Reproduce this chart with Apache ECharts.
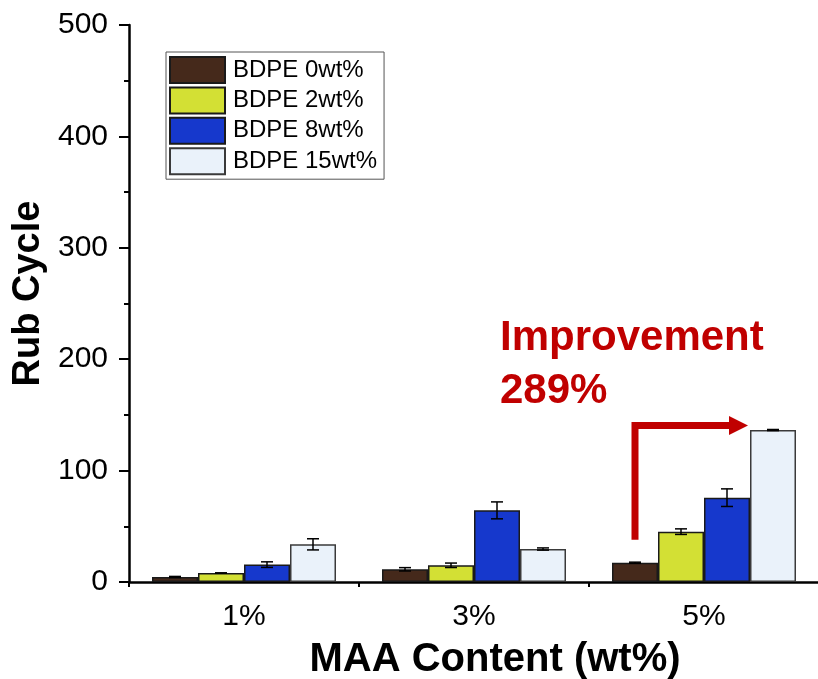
<!DOCTYPE html>
<html>
<head>
<meta charset="utf-8">
<script src="https://cdn.jsdelivr.net/npm/echarts@6/dist/echarts.min.js"></script>
<style>
  html, body { margin: 0; padding: 0; background: #ffffff; }
  #chart { width: 818px; height: 679px; }
</style>
</head>
<body>
<div id="chart"></div>
<script>
// MAA content groups on the x axis
const categories = ['1%', '3%', '5%'];
const seriesNames = ['BDPE 0wt%', 'BDPE 2wt%', 'BDPE 8wt%', 'BDPE 15wt%'];

// Rub cycle means and their error (± one deviation) per BDPE loading
const bdpe0 = [4.5, 11.4, 17.3];
const bdpe0Err = [0.5, 1.5, 0.5];
const bdpe2 = [8.1, 15.0, 45.2];
const bdpe2Err = [0, 2.0, 2.5];
const bdpe8 = [15.6, 64.3, 75.7];
const bdpe8Err = [2.5, 7.6, 7.9];
const bdpe15 = [33.8, 29.6, 136.4];
const bdpe15Err = [5.0, 1.0, 0.5];

const yTicks = [0, 100, 200, 300, 400, 500];

// Improvement call-out: arrow rises from the 0wt% bar to the 15wt% level
const arrowStart = 38;
const arrowLevel = 140.5;

const values = [bdpe0, bdpe2, bdpe8, bdpe15];
const errors = [bdpe0Err, bdpe2Err, bdpe8Err, bdpe15Err];
const colors = ['#45291b', '#d3e034', '#1638cc', '#eaf2fa'];
const borders = ['#1a1a1a', '#1a1a1a', '#1a1a1a', '#3a3a3a'];
const FONT = 'Liberation Sans, Arial, sans-serif';
const GAP = 0.2;

const chart = echarts.init(document.getElementById('chart'), null, { renderer: 'canvas' });

const barSeries = seriesNames.map((name, i) => ({
  name: name,
  type: 'bar',
  data: values[i],
  barGap: '0%',
  barCategoryGap: (GAP * 100) + '%',
  itemStyle: { color: colors[i], borderColor: borders[i], borderWidth: 1.5 },
  z: 2
}));

const errSeries = seriesNames.map((name, i) => ({
  name: name + ' err',
  type: 'custom',
  xAxisIndex: 0,
  yAxisIndex: 0,
  z: 5,
  silent: true,
  encode: { x: 0, y: [1, 2] },
  data: values[i].map((v, k) => [k, v - errors[i][k], v + errors[i][k]]),
  renderItem: function (params, api) {
    const k = api.value(0);
    const band = api.size([1, 0])[0];
    const barW = band * (1 - GAP) / seriesNames.length;
    const cx = api.coord([k, 0])[0] + (i - (seriesNames.length - 1) / 2) * barW;
    const yLo = api.coord([k, api.value(1)])[1];
    const yHi = api.coord([k, api.value(2)])[1];
    const cap = 6;
    const st = { stroke: '#000', lineWidth: 1.5 };
    return {
      type: 'group',
      children: [
        { type: 'line', shape: { x1: cx, y1: yLo, x2: cx, y2: yHi }, style: st },
        { type: 'line', shape: { x1: cx - cap, y1: yLo, x2: cx + cap, y2: yLo }, style: st },
        { type: 'line', shape: { x1: cx - cap, y1: yHi, x2: cx + cap, y2: yHi }, style: st }
      ]
    };
  }
}));

const option = {
  animation: false,
  backgroundColor: '#ffffff',
  textStyle: { fontFamily: FONT },
  grid: { left: 129, right: -1, top: 25, bottom: 97, outerBoundsMode: 'none', containLabel: false },
  legend: {
    orient: 'vertical',
    left: 166,
    top: 52,
    padding: [4, 7, 4, 3],
    itemWidth: 55,
    itemHeight: 26,
    itemGap: 2.4,
    borderColor: '#555',
    borderWidth: 1,
    backgroundColor: '#fff',
    icon: 'rect',
    data: seriesNames,
    textStyle: { fontFamily: FONT, fontSize: 24, lineHeight: 26, color: '#000', padding: [0, 0, 0, 3] }
  },
  xAxis: [
    {
      type: 'category',
      data: categories,
      position: 'bottom',
      axisLine: { lineStyle: { color: '#000', width: 2.5 } },
      axisTick: { alignWithLabel: true, length: 10, lineStyle: { color: '#000', width: 2 } },
      axisLabel: { fontFamily: FONT, fontSize: 30, color: '#000', margin: 20 },
      name: 'MAA Content (wt%)',
      nameLocation: 'middle',
      nameGap: 58,
      nameTextStyle: { fontFamily: FONT, fontSize: 40, fontWeight: 'bold', color: '#000', padding: [0, 0, 0, 42] }
    },
    {
      type: 'value',
      position: 'bottom',
      min: 0,
      max: categories.length,
      interval: 1,
      axisLine: { show: false },
      axisTick: { show: true, length: 5, lineStyle: { color: '#000', width: 2 } },
      axisLabel: { show: false },
      splitLine: { show: false }
    }
  ],
  yAxis: {
    type: 'value',
    min: yTicks[0],
    max: yTicks[yTicks.length - 1],
    interval: yTicks[1] - yTicks[0],
    axisLine: { show: true, lineStyle: { color: '#000', width: 2.5 } },
    axisTick: { show: true, length: 10, lineStyle: { color: '#000', width: 2 } },
    minorTick: { show: true, splitNumber: 2, length: 5, lineStyle: { color: '#000', width: 2 } },
    splitLine: { show: false },
    axisLabel: { fontFamily: FONT, fontSize: 30, color: '#000', margin: 21 },
    name: 'Rub Cycle',
    nameLocation: 'middle',
    nameGap: 80,
    nameRotate: 90,
    nameTextStyle: { fontFamily: FONT, fontSize: 38, fontWeight: 'bold', color: '#000', padding: [0, 0, 0, 20] }
  },
  series: barSeries.concat(errSeries)
};

chart.setOption(option);

// Call-out arrow and text, placed through the chart's own coordinate system
const band = chart.convertToPixel({ xAxisIndex: 0 }, categories[2]);
const b1 = chart.convertToPixel({ xAxisIndex: 0 }, categories[1]);
const bandW = band - b1;
const barW = bandW * (1 - GAP) / seriesNames.length;
const xStart = band - 1.5 * barW;
const xTip = band + 1.0 * barW - 2;
const yStart = chart.convertToPixel({ yAxisIndex: 0 }, arrowStart);
const yLevel = chart.convertToPixel({ yAxisIndex: 0 }, arrowLevel);
const headLen = 19;
const headHalf = 9.5;
const red = '#c00000';

chart.setOption({
  graphic: [
    {
      type: 'polyline',
      z: 10,
      shape: { points: [[xStart, yStart], [xStart, yLevel], [xTip - headLen + 1, yLevel]] },
      style: { stroke: red, lineWidth: 7, fill: null, lineJoin: 'miter', lineCap: 'butt' }
    },
    {
      type: 'polygon',
      z: 10,
      shape: { points: [[xTip - headLen, yLevel - headHalf], [xTip, yLevel], [xTip - headLen, yLevel + headHalf]] },
      style: { fill: red }
    },
    {
      type: 'text',
      z: 10,
      left: 500,
      top: 312,
      style: {
        text: 'Improvement\n289%',
        fill: red,
        font: 'bold 42px ' + FONT,
        lineHeight: 53
      }
    }
  ]
});
</script>
</body>
</html>
